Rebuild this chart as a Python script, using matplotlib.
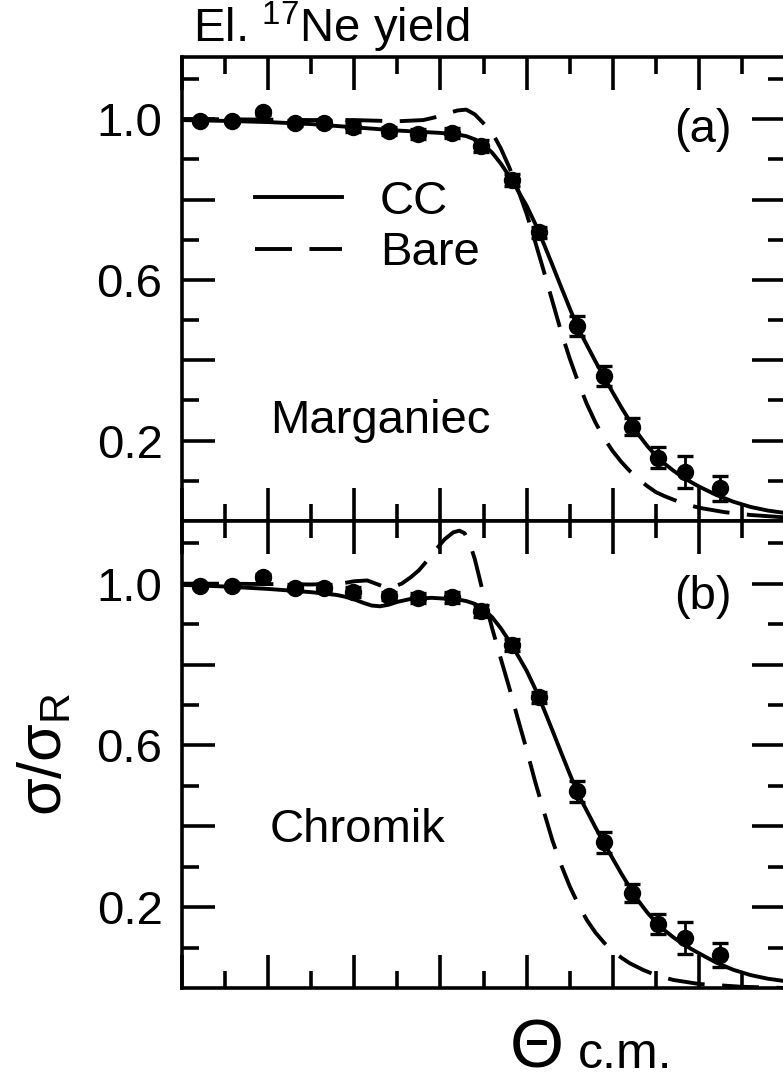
import matplotlib
matplotlib.use("Agg")
import matplotlib.pyplot as plt
from matplotlib.ticker import MultipleLocator, FixedLocator

plt.rcParams['font.family'] = ['Liberation Sans', 'DejaVu Sans']
plt.rcParams['mathtext.fontset'] = 'custom'
plt.rcParams['mathtext.rm'] = 'Liberation Sans'
plt.rcParams['mathtext.it'] = 'Liberation Sans:italic'

# Measured elastic 17Ne yield (ratio to Rutherford) vs c.m. angle
theta_data = [0.21, 0.58, 0.94, 1.31, 1.65, 1.99, 2.40, 2.74, 3.13, 3.47,
              3.83, 4.14, 4.58, 4.90, 5.22, 5.52, 5.84, 6.24]
ratio_data = [0.995, 0.995, 1.017, 0.990, 0.990, 0.980, 0.970, 0.964, 0.966, 0.933,
              0.849, 0.719, 0.486, 0.360, 0.235, 0.158, 0.123, 0.081]
ratio_err = [0.005, 0.005, 0.006, 0.008, 0.008, 0.012, 0.010, 0.012, 0.013, 0.015,
             0.015, 0.014, 0.025, 0.025, 0.022, 0.025, 0.040, 0.030]

# (a) Marganiec potential: continuum-coupled and bare calculations
cc_a_x = [0.0, 0.5, 1.0, 1.5, 2.0, 2.5, 3.0, 3.2, 3.3, 3.4, 3.5, 3.6, 3.7, 3.8, 3.9,
          4.0, 4.1, 4.2, 4.3, 4.4, 4.5, 4.6, 4.7, 4.8, 4.9, 5.0, 5.1, 5.2, 5.3,
          5.4, 5.5, 5.6, 5.7, 5.8, 5.9, 6.0, 6.2, 6.4, 6.6, 6.8, 7.0]
cc_a_y = [0.998, 0.996, 0.993, 0.988, 0.980, 0.972, 0.966, 0.962, 0.958, 0.950,
          0.937, 0.917, 0.890, 0.858, 0.822, 0.785, 0.740, 0.690, 0.637, 0.583,
          0.530, 0.479, 0.438, 0.397, 0.358, 0.320, 0.283, 0.248, 0.215, 0.187,
          0.163, 0.143, 0.126, 0.111, 0.098, 0.086, 0.065, 0.048, 0.035, 0.026, 0.020]
bare_a_x = [0.0, 0.5, 1.0, 1.5, 2.0, 2.5, 2.8, 3.0, 3.1, 3.2, 3.3, 3.4, 3.5, 3.6,
            3.7, 3.8, 3.9, 4.0, 4.1, 4.2, 4.3, 4.4, 4.5, 4.6, 4.7, 4.8, 4.9, 5.0,
            5.1, 5.2, 5.3, 5.4, 5.5, 5.6, 5.8, 6.0, 6.3, 6.6, 7.0]
bare_a_y = [1.0, 1.0, 0.999, 0.998, 0.998, 0.995, 0.998, 1.008, 1.016, 1.022, 1.024,
            1.012, 0.990, 0.967, 0.928, 0.880, 0.825, 0.765, 0.695, 0.622, 0.547,
            0.472, 0.405, 0.345, 0.291, 0.245, 0.206, 0.174, 0.147, 0.124, 0.104,
            0.087, 0.072, 0.062, 0.045, 0.033, 0.022, 0.015, 0.009]

# (b) Chromik potential
cc_b_x = [0.0, 0.5, 1.0, 1.5, 1.8, 1.95, 2.1, 2.2, 2.3, 2.4, 2.5, 2.65, 2.9, 3.2,
          3.3, 3.4, 3.5, 3.6, 3.7, 3.8, 3.9, 4.0, 4.1, 4.2, 4.3, 4.4, 4.5, 4.6,
          4.7, 4.8, 4.9, 5.0, 5.1, 5.2, 5.3, 5.4, 5.5, 5.6, 5.7, 5.8, 5.9, 6.0,
          6.2, 6.4, 6.6, 6.8, 7.0]
cc_b_y = [0.997, 0.993, 0.987, 0.979, 0.972, 0.965, 0.953, 0.946, 0.944, 0.948,
          0.955, 0.962, 0.965, 0.961, 0.957, 0.950, 0.937, 0.917, 0.890, 0.858,
          0.822, 0.785, 0.740, 0.690, 0.637, 0.583, 0.530, 0.479, 0.438, 0.397,
          0.358, 0.320, 0.283, 0.248, 0.215, 0.187, 0.163, 0.143, 0.126, 0.111,
          0.098, 0.086, 0.063, 0.045, 0.032, 0.023, 0.017]
bare_b_x = [0.0, 0.5, 1.0, 1.5, 1.84, 2.0, 2.15, 2.25, 2.35, 2.45, 2.55, 2.65, 2.75,
            2.85, 2.95, 3.05, 3.15, 3.22, 3.28, 3.34, 3.40, 3.46, 3.52, 3.6, 3.7,
            3.8, 3.9, 4.0, 4.1, 4.2, 4.3, 4.4, 4.5, 4.6, 4.7, 4.8, 4.9, 5.0, 5.1,
            5.2, 5.35, 5.5, 5.7, 6.0, 6.5, 7.0]
bare_b_y = [1.0, 1.0, 0.999, 0.998, 1.0, 1.006, 1.008, 1.0, 0.992, 0.992, 1.0, 1.015,
            1.033, 1.058, 1.085, 1.110, 1.127, 1.131, 1.125, 1.100, 1.060, 1.008,
            0.955, 0.890, 0.815, 0.742, 0.665, 0.590, 0.510, 0.437, 0.365, 0.305,
            0.252, 0.207, 0.168, 0.137, 0.112, 0.092, 0.075, 0.061, 0.045, 0.032,
            0.020, 0.010, 0.003, 0.0]

panels = [
    dict(cc=(cc_a_x, cc_a_y), bare=(bare_a_x, bare_a_y), tag='(a)', tag_y=0.843,
         name='Marganiec', name_y=0.19),
    dict(cc=(cc_b_x, cc_b_y), bare=(bare_b_x, bare_b_y), tag='(b)', tag_y=0.837,
         name='Chromik', name_y=0.313),
]

ytick_vals = [0.2, 0.4, 0.6, 0.8, 1.0]
ytick_text = ['0.2', '', '0.6', '', '1.0']

FS = 34
LW = 2.8
DASH = (9.5, 4.5)

fig = plt.figure(figsize=(7.83, 10.81), dpi=100)
H = 1081
left, right = 182 / 783, 785 / 783
top_px, mid_px, bot_px = 57, 521, 988
ax_a = fig.add_axes([left, 1 - mid_px / H, right - left, (mid_px - top_px) / H])
ax_b = fig.add_axes([left, 1 - bot_px / H, right - left, (bot_px - mid_px) / H])

for ax, p in zip([ax_a, ax_b], panels):
    ax.plot(*p['cc'], color='black', lw=LW, zorder=2, label='CC')
    ax.plot(*p['bare'], color='black', lw=LW, dashes=DASH, zorder=2, label='Bare')
    ax.errorbar(theta_data, ratio_data, yerr=ratio_err, fmt='o', color='black',
                ms=11.5, elinewidth=2.0, capsize=6, capthick=2.4, zorder=3)
    ax.set_xlim(0, 7)
    ax.set_ylim(0, 1.155)
    ax.xaxis.set_major_locator(MultipleLocator(1))
    ax.xaxis.set_minor_locator(MultipleLocator(0.5))
    ax.yaxis.set_major_locator(FixedLocator(ytick_vals))
    ax.yaxis.set_minor_locator(FixedLocator([0.1, 0.3, 0.5, 0.7, 0.9, 1.1]))
    ax.set_yticklabels(ytick_text)
    ax.tick_params(which='both', direction='in', top=True, right=True,
                   labelbottom=False, width=2.6, labelsize=FS, pad=14)
    ax.tick_params(which='major', length=24)
    ax.tick_params(which='minor', length=12)
    for s in ax.spines.values():
        s.set_linewidth(2.6)
    ax.text(0.864, p['tag_y'], p['tag'], transform=ax.transAxes, fontsize=FS,
            ha='center', va='center')
    ax.text(0.146, p['name_y'], p['name'], transform=ax.transAxes, fontsize=FS,
            ha='left', va='baseline')

ax_a.legend(loc='upper left', bbox_to_anchor=(0.121, 0.735),
            frameon=False, fontsize=FS, handlelength=1.84, handletextpad=0.8,
            labelspacing=0.15, borderpad=0, borderaxespad=0)

fig.text(193 / 783, 1 - 42 / H, r'El. $^{\mathregular{17}}$Ne yield', fontsize=FS,
         ha='left', va='baseline')
ax_b.set_ylabel(r'σ/σ$_{\mathregular{R}}$', fontsize=44, labelpad=16)
fig.text(510 / 783, 1 - 1067 / H, 'Θ', fontsize=50, ha='left', va='baseline')
fig.text(578 / 783, 1 - 1068 / H, 'c.m.', fontsize=36, ha='left', va='baseline')

fig.savefig('out.png', dpi=100)
